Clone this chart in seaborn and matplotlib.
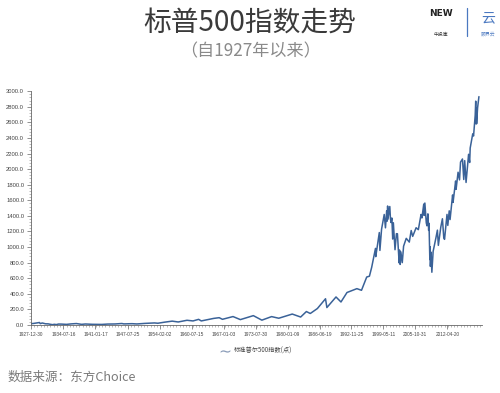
import matplotlib
matplotlib.use("Agg")
import matplotlib.pyplot as plt
import matplotlib.dates as mdates
from matplotlib.ticker import AutoMinorLocator, MultipleLocator, FuncFormatter
import seaborn as sns
import pandas as pd
from matplotlib.lines import Line2D

sns.set_theme(style="white")
plt.rcParams['font.family'] = ['Noto Sans CJK SC', 'DejaVu Sans']

# --- data (S&P 500 index level) ---
dates = [
    "1927-12-30", "1928-06-15", "1928-12-31", "1929-09-16", "1929-11-13", "1930-04-10",
    "1930-12-16", "1931-06-15", "1931-12-31", "1932-06-01", "1932-09-07", "1933-02-27",
    "1933-07-18", "1934-02-06", "1935-03-14", "1936-01-15", "1937-03-06", "1938-03-31",
    "1939-01-03", "1940-06-10", "1941-12-31", "1942-04-28", "1943-07-14", "1944-12-30",
    "1946-05-29", "1946-10-09", "1948-06-15", "1949-06-13", "1950-12-29", "1952-12-31",
    "1953-09-14", "1954-12-31", "1956-08-02", "1957-10-22", "1959-08-03", "1960-10-25",
    "1961-12-12", "1962-06-26", "1964-12-31", "1966-02-09", "1966-10-07", "1968-11-29",
    "1970-05-26", "1973-01-11", "1974-10-03", "1976-09-21", "1978-03-06", "1980-11-28",
    "1982-08-12", "1983-10-10", "1984-07-24", "1985-12-31", "1987-08-25", "1987-12-04",
    "1989-10-09", "1990-10-11", "1991-12-31", "1993-12-31", "1994-12-08", "1995-12-29",
    "1996-07-16", "1996-12-31", "1997-10-07", "1997-10-27", "1998-07-17", "1998-08-31",
    "1998-12-31", "1999-07-16", "1999-10-15", "2000-01-14", "2000-02-25", "2000-03-24",
    "2000-04-14", "2000-09-01", "2000-10-18", "2000-11-30", "2001-01-30", "2001-04-04",
    "2001-05-21", "2001-09-21", "2002-01-04", "2002-03-19", "2002-07-23", "2002-08-22",
    "2002-10-09", "2002-11-27", "2003-03-11", "2003-06-17", "2003-12-31", "2004-08-12",
    "2004-12-31", "2005-04-20", "2005-12-30", "2006-06-13", "2006-12-29", "2007-03-05",
    "2007-07-19", "2007-08-15", "2007-10-09", "2008-01-22", "2008-03-10", "2008-05-19",
    "2008-07-15", "2008-08-11", "2008-10-10", "2008-11-04", "2008-11-20", "2009-01-06",
    "2009-03-09", "2009-06-12", "2009-12-31", "2010-04-23", "2010-07-02", "2010-12-31",
    "2011-04-29", "2011-08-08", "2011-10-03", "2012-04-02", "2012-06-01", "2012-09-14",
    "2012-11-15", "2013-05-21", "2013-06-24", "2013-12-31", "2014-02-03", "2014-06-30",
    "2014-10-15", "2014-12-29", "2015-05-21", "2015-08-25", "2015-11-03", "2016-02-11",
    "2016-08-15", "2016-11-04", "2016-12-13", "2017-06-19", "2017-08-18", "2017-12-18",
    "2018-01-26", "2018-02-08", "2018-03-12", "2018-04-02", "2018-06-12", "2018-09-20",
]
values = [
    17.7, 19.6, 24.4, 31.9, 17.7, 25.9,
    15.3, 14.9, 8.1, 4.4, 9.1, 5.5,
    12.2, 11.8, 8.1, 13.8, 18.7, 8.5,
    13.0, 8.9, 8.7, 7.5, 12.2, 13.3,
    19.3, 14.1, 17.1, 13.6, 20.4, 26.6,
    22.7, 36.0, 49.7, 39.0, 60.7, 52.3,
    72.6, 52.3, 84.8, 94.0, 73.2, 108.4,
    69.3, 120.2, 62.3, 107.8, 86.9, 140.5,
    102.4, 172.7, 147.8, 211.3, 336.8, 224.0,
    359.8, 295.5, 417.1, 466.5, 445.5, 615.9,
    626.0, 740.7, 983.0, 877.0, 1186.0, 957.0,
    1229.0, 1418.0, 1247.0, 1465.0, 1333.0, 1527.0,
    1357.0, 1520.0, 1364.0, 1315.0, 1373.0, 1103.0,
    1312.0, 966.0, 1172.0, 1170.0, 797.0, 962.0,
    777.0, 938.0, 800.0, 1011.0, 1112.0, 1064.0,
    1212.0, 1137.0, 1248.0, 1223.0, 1418.0, 1374.0,
    1552.0, 1406.0, 1565.0, 1310.0, 1273.0, 1426.0,
    1214.0, 1305.0, 840.0, 1005.0, 752.0, 935.0,
    677.0, 946.0, 1115.0, 1217.0, 1022.0, 1257.0,
    1363.0, 1119.0, 1099.0, 1419.0, 1278.0, 1465.0,
    1353.0, 1669.0, 1573.0, 1848.0, 1741.0, 1960.0,
    1862.0, 2090.0, 2130.0, 1867.0, 2109.0, 1829.0,
    2190.0, 2085.0, 2271.0, 2453.0, 2425.0, 2690.0,
    2872.0, 2581.0, 2786.0, 2582.0, 2786.0, 2930.0,
]
tick_labels = ["1927-12-30", "1934-07-16", "1941-01-17", "1947-07-25", "1954-02-02",
               "1960-07-15", "1967-01-03", "1973-07-30", "1980-01-09", "1986-06-19",
               "1992-11-25", "1999-05-11", "2005-10-31", "2012-04-20"]
series_name = "标准普尔500指数(点)"

df = pd.DataFrame({"date": pd.to_datetime(dates), "value": values})

fig = plt.figure(figsize=(5.0, 3.93), dpi=100)
ax = fig.add_axes([0.062, 0.173, 0.902, 0.595])

line_color = "#3A6298"
sns.lineplot(data=df, x="date", y="value", ax=ax, color=line_color, linewidth=1.1)

ax.set_ylim(0, 3000)
tick_dates = pd.to_datetime(tick_labels)
x0 = mdates.date2num(tick_dates[0])
x1 = mdates.date2num(tick_dates[-1])
span = x1 - x0
ax.set_xlim(x0 + span * 0.005, x1 + span * 0.0835)
ax.set_xticks(mdates.date2num(tick_dates))
ax.set_xticklabels(tick_labels, family=["Liberation Sans", "DejaVu Sans"], fontsize=3.4)
ax.xaxis.set_minor_locator(AutoMinorLocator(10))
ax.yaxis.set_major_locator(MultipleLocator(200))
ax.yaxis.set_minor_locator(AutoMinorLocator(5))
ax.yaxis.set_major_formatter(FuncFormatter(lambda v, p: f"{v:.1f}"))
for lab in ax.get_yticklabels():
    lab.set_family(["Liberation Sans", "DejaVu Sans"])
    lab.set_fontsize(4.2)
ax.set_xlabel("")
ax.set_ylabel("")

for s in ["top", "right"]:
    ax.spines[s].set_visible(False)
for s in ["left", "bottom"]:
    ax.spines[s].set_color("#666666")
    ax.spines[s].set_linewidth(0.6)

ax.tick_params(axis="both", which="major", direction="out", length=3, width=0.5,
               color="#666666", labelcolor="#444444", pad=2,
               left=True, bottom=True)
ax.tick_params(axis="y", labelsize=4.2)
ax.tick_params(axis="x", labelsize=3.4)
ax.tick_params(axis="both", which="minor", direction="out", length=1.5, width=0.4,
               color="#888888", left=True, bottom=True)
ax.grid(False)

# legend
handle = Line2D([], [], color="#8A9CB8", linestyle="none", marker="$\\sim$",
                markersize=7, markeredgewidth=0.0)
leg = ax.legend([handle], [series_name], loc="upper center", bbox_to_anchor=(0.5, -0.07),
                frameon=False, fontsize=4.5, handlelength=1.2, handletextpad=0.8)
for t in leg.get_texts():
    t.set_color("#444444")

# titles
fig.text(0.5, 1 - 23 / 393, "标普500指数走势", ha="center", va="center",
         fontsize=20, color="#3a3a3a")
fig.text(0.5, 1 - 51 / 393, "（自1927年以来）", ha="center", va="center",
         fontsize=12.3, color="#8a8a8a")
fig.text(8 / 500, 1 - 377 / 393, "数据来源：东方Choice", ha="left", va="center",
         fontsize=9.1, color="#7a7a7a")

# logo approximation
fig.text(441 / 500, 1 - 14 / 393, "NEW", ha="center", va="center", fontsize=6.5,
         fontweight="bold", color="#222222", family=["DejaVu Sans"])
fig.text(441 / 500, 1 - 34 / 393, "牛投库", ha="center", va="center", fontsize=3.5,
         color="#333333")
fig.add_artist(Line2D([467 / 500, 467 / 500], [1 - 8 / 393, 1 - 36 / 393],
                      color="#4A78C0", linewidth=0.9))
fig.text(488 / 500, 1 - 18 / 393, "云", ha="center", va="center", fontsize=10,
         color="#4A78C0")
fig.text(488 / 500, 1 - 34 / 393, "顾界云", ha="center", va="center", fontsize=3.5,
         color="#4A78C0")

fig.savefig("out.png", dpi=100)
